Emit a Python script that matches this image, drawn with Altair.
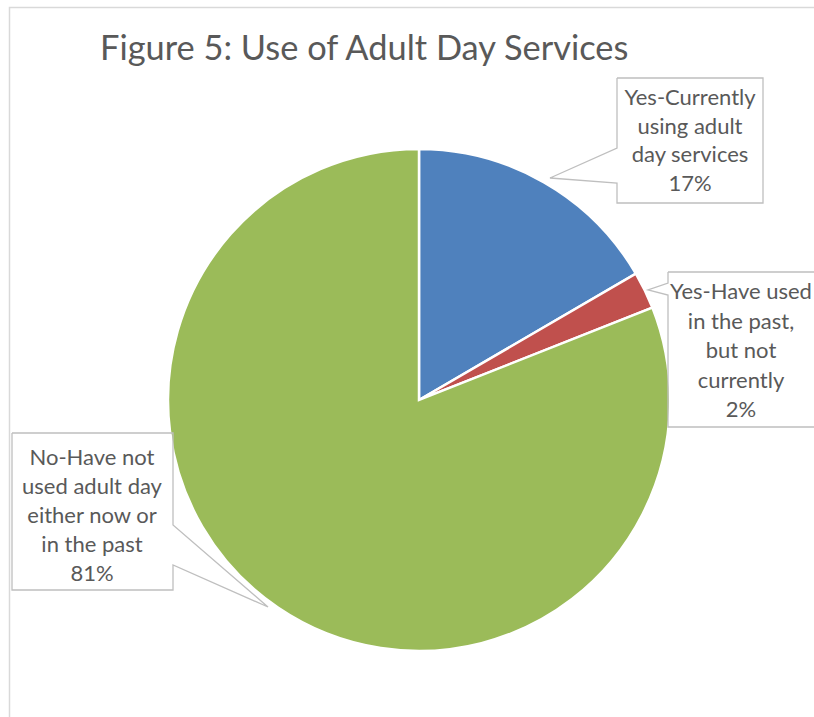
import altair as alt
import pandas as pd

W, H = 814, 717

# ---- data ----
title_text = "Figure 5: Use of Adult Day Services"
categories = [
    "Yes-Currently using adult day services",
    "Yes-Have used in the past, but not currently",
    "No-Have not used adult day either now or in the past",
]
values = [16.6, 2.4, 81.0]
colors = ["#4F81BD", "#C0504D", "#9BBB59"]
label_lines = [
    ["Yes-Currently", "using adult", "day services"],
    ["Yes-Have used", "in the past,", "but not", "currently"],
    ["No-Have not", "used adult day", "either now or", "in the past"],
]

# ---- layout of callouts (annotation geometry) ----
callouts = [
    dict(box=(617, 78, 763, 203), side="left", pa=148, tip=(550, 178), pb=183, tx=690, ty=98, lh=28.5),
    dict(box=(668, 272, 835, 427), side="left", pa=283, tip=(648, 290), pb=295, tx=741, ty=292, lh=29.5),
    dict(box=(12, 433, 173, 590), side="right", pa=525, tip=(268, 607), pb=565, tx=92, ty=458, lh=29),
]
CX, CY, R = 419, 400, 251
FONT = "Lato"
TXT = "#595959"

pie_df = pd.DataFrame({"category": categories, "value": values, "idx": list(range(len(categories)))})

outline_rows = []
text_rows = []
for k, c in enumerate(callouts):
    x0, y0, x1, y1 = c["box"]
    tx, ty = c["tip"]
    if c["side"] == "left":
        pts = [(x0, y0), (x1, y0), (x1, y1), (x0, y1), (x0, c["pb"]), (tx, ty), (x0, c["pa"]), (x0, y0)]
    else:
        pts = [(x0, y0), (x1, y0), (x1, c["pa"]), (tx, ty), (x1, c["pb"]), (x1, y1), (x0, y1), (x0, y0)]
    for i, (px, py) in enumerate(pts):
        outline_rows.append({"k": k, "i": i, "x": px, "y": py})
    lines = label_lines[k] + [f"{round(values[k])}%"]
    for j, t in enumerate(lines):
        text_rows.append({"x": c["tx"], "y": c["ty"] + j * c["lh"], "text": t})

outline_df = pd.DataFrame(outline_rows)
text_df = pd.DataFrame(text_rows)
title_df = pd.DataFrame({"x": [100], "y": [60], "text": [title_text]})

xs = alt.Scale(domain=[0, W], nice=False, zero=False)
ys = alt.Scale(domain=[0, H], nice=False, zero=False, reverse=True)

frame = alt.Chart(pd.DataFrame({"a": [0]})).mark_rect(
    fillOpacity=0, stroke="#D9D9D9", strokeWidth=1.5
).encode(x=alt.value(9.5), x2=alt.value(W + 20), y=alt.value(7.5), y2=alt.value(H + 20))

pie = alt.Chart(pie_df).mark_arc(outerRadius=R, stroke="white", strokeWidth=2.5).encode(
    theta=alt.Theta("value:Q", stack=True),
    color=alt.Color("category:N", scale=alt.Scale(domain=categories, range=colors), legend=None),
    order=alt.Order("idx:Q"),
    x=alt.value(CX),
    y=alt.value(CY),
)

outlines = alt.Chart(outline_df).mark_line(color="#BFBFBF", strokeWidth=1.3).encode(
    x=alt.X("x:Q", scale=xs, axis=None),
    y=alt.Y("y:Q", scale=ys, axis=None),
    detail="k:N",
    order="i:Q",
)

labels = alt.Chart(text_df).mark_text(
    font=FONT, fontSize=22, color=TXT, align="center", baseline="middle"
).encode(
    x=alt.X("x:Q", scale=xs, axis=None),
    y=alt.Y("y:Q", scale=ys, axis=None),
    text="text:N",
)

title = alt.Chart(title_df).mark_text(
    font=FONT, fontSize=34.4, color=TXT, align="left", baseline="alphabetic"
).encode(
    x=alt.X("x:Q", scale=xs, axis=None),
    y=alt.Y("y:Q", scale=ys, axis=None),
    text="text:N",
)

chart = alt.layer(frame, pie, outlines, labels, title).properties(
    width=W, height=H, autosize=alt.AutoSizeParams(type="none"), padding=0, background="white"
).configure_view(stroke=None)

chart.save("out.html", embed_options={"renderer": "svg", "actions": False})
